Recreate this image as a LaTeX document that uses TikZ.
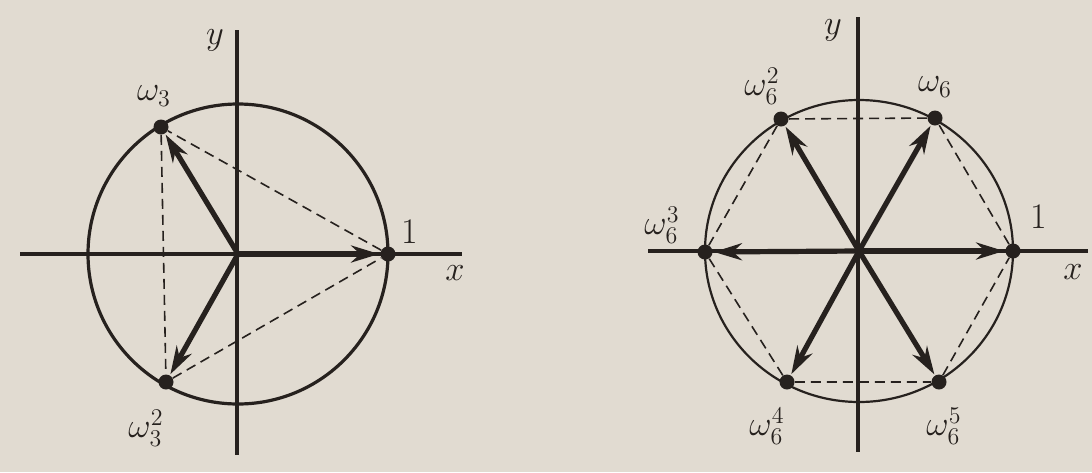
\documentclass[tikz,border=0pt]{standalone}
\usetikzlibrary{arrows.meta}
\definecolor{paper}{RGB}{225,219,209}
\definecolor{ink}{RGB}{38,33,30}
\begin{document}
\begin{tikzpicture}[x=0.5pt,y=-0.5pt,
 axis/.style={ink, line width=1.6pt},
 circl/.style={ink, line width=1.6pt},
 circr/.style={ink, line width=1.1pt},
 vec/.style={ink, line width=2.6pt, -{Stealth[length=14pt,width=8.5pt]}, shorten >=0.5pt},
 chord/.style={ink, line width=0.8pt, dash pattern=on 5pt off 3pt},
 dot/.style={circle, fill=ink, inner sep=0pt, minimum size=7.5pt},
 lab/.style={ink, inner sep=0pt, font=\fontsize{18}{21}\selectfont}]
\fill[paper] (0,0) rectangle (1092,472);
\useasboundingbox (0,0) rectangle (1092,472);
% ---- left diagram ----
\coordinate (LO) at (238,254);
\draw[axis] (20,254) -- (462,254);
\draw[axis] (237,30) -- (237,455);
\draw[circl] (LO) circle[radius=150];
\node[dot] (L0) at (388,254) {};
\node[dot] (L1) at (161,127) {};
\node[dot] (L2) at (166,382) {};
\draw[chord] (L0) -- (L1) -- (L2) -- (L0);
\draw[vec] (LO) -- (L0);
\draw[vec] (LO) -- (L1);
\draw[vec] (LO) -- (L2);
\node[lab] (tl1) at (154,96) {$\omega_3$};
\node[lab] (tl2) at (146,428) {$\omega_3^2$};
\node[lab] (tl0) at (410,232) {1};
\node[lab] (txl) at (455,273) {$x$};
\node[lab] (tyl) at (215,40) {$y$};
% ---- right diagram ----
\coordinate (RO) at (859,251);
\draw[axis] (648,251) -- (1088,251);
\draw[axis] (858,17) -- (858,452);
\draw[circr] (RO) ellipse[x radius=154, y radius=151];
\node[dot] (R0) at (1013,251) {};
\node[dot] (R1) at (935,118) {};
\node[dot] (R2) at (781,119) {};
\node[dot] (R3) at (705,252) {};
\node[dot] (R4) at (787,382) {};
\node[dot] (R5) at (939,382) {};
\draw[chord] (R0) -- (R1) -- (R2) -- (R3) -- (R4) -- (R5) -- (R0);
\foreach \i in {0,...,5} \draw[vec] (RO) -- (R\i);
\node[lab] (tr1) at (935,87) {$\omega_6$};
\node[lab] (tr2) at (762,86) {$\omega_6^2$};
\node[lab] (tr3) at (662,225) {$\omega_6^3$};
\node[lab] (tr4) at (767,426) {$\omega_6^4$};
\node[lab] (tr5) at (944,426) {$\omega_6^5$};
\node[lab] (tr0) at (1039,217) {1};
\node[lab] (txr) at (1073,272) {$x$};
\node[lab] (tyr) at (833,30) {$y$};
\end{tikzpicture}
\end{document}
